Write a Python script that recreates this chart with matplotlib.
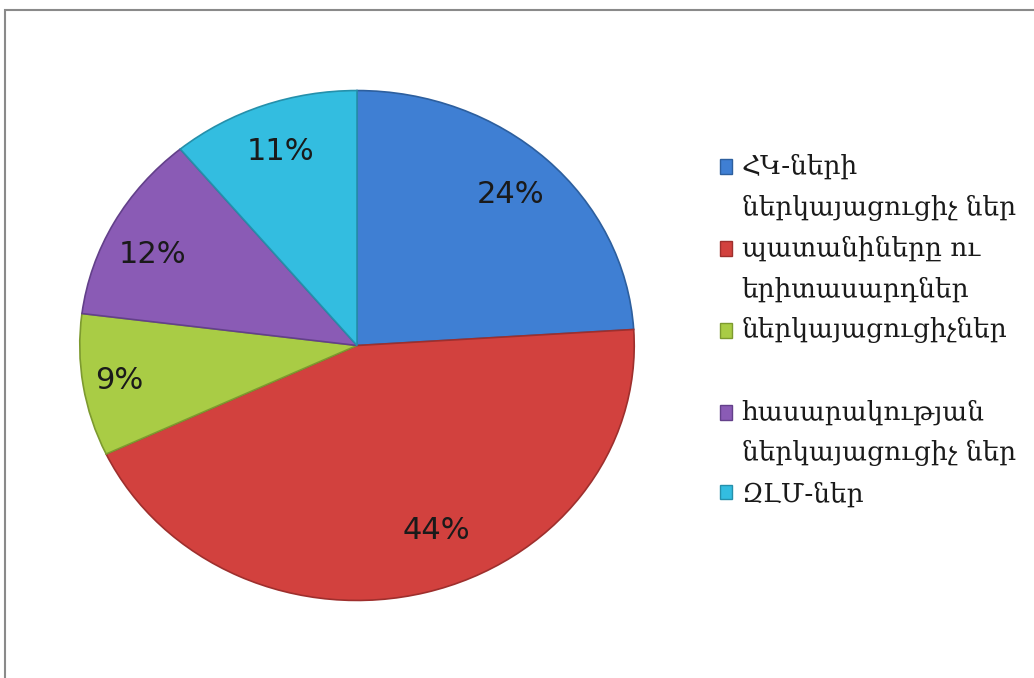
import numpy as np
import matplotlib.pyplot as plt
from matplotlib.patches import Rectangle
from matplotlib.legend_handler import HandlerPatch

# shares by group, clockwise from 12 o'clock
labels = ['ՀԿ-ների\nներկայացուցիչ ներ',
          'պատանիները ու\nերիտասարդներ',
          'ներկայացուցիչներ\n ',
          'հասարակության\nներկայացուցիչ ներ',
          'ԶԼՄ-ներ']
shares = [24, 44, 9, 12, 11]
colors = ['#3f7fd3', '#d2413e', '#a9cc45', '#8a5bb5', '#33bde0']
edges = ['#2d5f9e', '#9e2f2d', '#7d9a2f', '#63408a', '#2590ab']

LEG_SIZE = 19
LINESP = 1.77


class TopSquare(HandlerPatch):
    # put the square next to the first line of a multi-line label
    def __init__(self, nlines):
        super().__init__()
        self.nlines = nlines

    def create_artists(self, legend, orig_handle, xdescent, ydescent,
                       width, height, fontsize, trans):
        shift = (self.nlines - 1) * LINESP * 0.9 * fontsize * 0.5
        p = Rectangle((-xdescent, -ydescent + shift), width, height,
                      facecolor=orig_handle.get_facecolor(),
                      edgecolor=orig_handle.get_edgecolor(), linewidth=1)
        p.set_transform(trans)
        return [p]


fig = plt.figure(figsize=(10.34, 6.78), dpi=100)
fig.patch.set_facecolor('white')

# outer chart frame
fig.patches.append(Rectangle((5 / 1034, -0.1), 1.1, 1 - 10 / 678 + 0.1,
                             transform=fig.transFigure, fill=False,
                             edgecolor='#8a8a8a', linewidth=1.5))

ax = fig.add_axes([77 / 1034, 75 / 678, 560 / 1034, 515 / 678])
wedges, texts, autotexts = ax.pie(
    shares, colors=colors, startangle=90, counterclock=False,
    autopct='%d%%', pctdistance=0.81, radius=1,
    wedgeprops=dict(linewidth=1.2),
    textprops=dict(fontsize=22, color='#1a1a1a', family='DejaVu Sans'))
for w, ec in zip(wedges, edges):
    w.set_edgecolor(ec)

# the big slice's label sits a little off its middle, as in the original
w = wedges[1]
ang = np.deg2rad((w.theta1 + w.theta2) / 2 + 7)
autotexts[1].set_position((0.78 * np.cos(ang), 0.78 * np.sin(ang)))
# the small green one sits nearer the rim
w = wedges[2]
ang = np.deg2rad((w.theta1 + w.theta2) / 2)
autotexts[2].set_position((0.87 * np.cos(ang), 0.87 * np.sin(ang)))
# purple label a bit lower
w = wedges[3]
ang = np.deg2rad((w.theta1 + w.theta2) / 2 + 3)
autotexts[3].set_position((0.82 * np.cos(ang), 0.82 * np.sin(ang)))

ax.set_aspect('auto')
ax.set_xlim(-1.01, 1.01)
ax.set_ylim(-1.01, 1.01)
ax.axis('off')

hmap = {wd: TopSquare(lab.count('\n') + 1) for wd, lab in zip(wedges, labels)}
leg = ax.legend(wedges, labels, loc='upper left',
                bbox_to_anchor=(696 / 1034, 1 - 130 / 678),
                bbox_transform=fig.transFigure, frameon=False,
                prop=dict(family='DejaVu Serif', size=LEG_SIZE),
                handlelength=0.48, handleheight=0.48, handletextpad=0.35,
                labelspacing=0.58, handler_map=hmap)
for t in leg.get_texts():
    t.set_linespacing(LINESP)
    t.set_color('#1a1a1a')

fig.savefig('out.png', dpi=100)
